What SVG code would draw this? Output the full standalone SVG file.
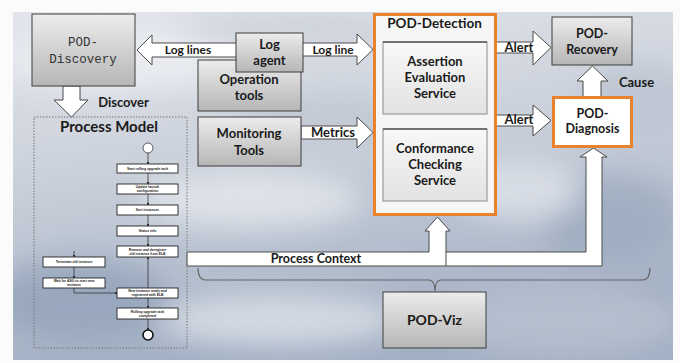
<svg xmlns="http://www.w3.org/2000/svg" width="680" height="363" viewBox="0 0 680 363">
  <defs>
    <linearGradient id="sky" x1="0" y1="0" x2="0.25" y2="1">
      <stop offset="0" stop-color="#e3e5eb"/>
      <stop offset="0.45" stop-color="#cbd1db"/>
      <stop offset="1" stop-color="#a3b0c4"/>
    </linearGradient>
    <linearGradient id="grayBox" x1="0" y1="0" x2="0" y2="1">
      <stop offset="0" stop-color="#ececec"/>
      <stop offset="1" stop-color="#b6b6b6"/>
    </linearGradient>
    <linearGradient id="lightBox" x1="0" y1="0" x2="0" y2="1">
      <stop offset="0" stop-color="#f8f8f8"/>
      <stop offset="1" stop-color="#e2e2e2"/>
    </linearGradient>
    <filter id="cloudBlur" x="-50%" y="-50%" width="200%" height="200%">
      <feGaussianBlur stdDeviation="14"/>
    </filter>
    <clipPath id="skyClip"><rect x="13" y="12" width="660" height="348"/></clipPath>
    <marker id="pmArrow" viewBox="0 0 6 6" refX="5" refY="3" markerWidth="4" markerHeight="4" orient="auto">
      <path d="M0,0 L6,3 L0,6 Z" fill="#222"/>
    </marker>
    <style>
      .lbl { font-family: Lato, "Liberation Sans", sans-serif; font-weight: bold; fill: #1a1a1a; text-anchor: middle; }
      .mono { font-family: "Liberation Mono", "DejaVu Sans Mono", monospace; fill: #333; text-anchor: middle; font-size: 12.5px; }
      .gbox { fill: url(#grayBox); stroke: #3c3c3c; stroke-width: 1; }
      .lbox { fill: url(#lightBox); stroke: #8a8a8a; stroke-width: 1; }
      .obox { stroke: #e8822c; stroke-width: 3; }
      .blk { fill: #ffffff; stroke: #4a4a4a; stroke-width: 1; stroke-linejoin: miter; }
      .pm { fill: #ffffff; stroke: #222; stroke-width: 0.9; }
      .pmt { font-family: "Liberation Sans", sans-serif; font-weight: bold; font-size: 3.4px; fill: #222; text-anchor: middle; }
      .pml { stroke: #222; stroke-width: 0.7; fill: none; }
    </style>
  </defs>

  <!-- page and sky backdrop -->
  <rect x="0" y="0" width="680" height="363" fill="#fbfbfb"/>
  <rect x="13" y="12" width="660" height="348" fill="url(#sky)"/>
  <g clip-path="url(#skyClip)">
    <g filter="url(#cloudBlur)" opacity="0.8">
      <ellipse cx="120" cy="60" rx="120" ry="30" fill="#eef0f4"/>
      <ellipse cx="330" cy="120" rx="90" ry="25" fill="#c0c7d3"/>
      <ellipse cx="250" cy="200" rx="110" ry="28" fill="#e6e9ee"/>
      <ellipse cx="80" cy="300" rx="90" ry="40" fill="#93a3ba"/>
      <ellipse cx="280" cy="320" rx="120" ry="25" fill="#e0e4ea"/>
      <ellipse cx="560" cy="320" rx="120" ry="35" fill="#b9c2d0"/>
      <ellipse cx="610" cy="220" rx="70" ry="45" fill="#9dabbf"/>
      <ellipse cx="520" cy="190" rx="60" ry="30" fill="#dfe3ea"/>
      <ellipse cx="640" cy="100" rx="60" ry="35" fill="#bbc4d1"/>
      <ellipse cx="300" cy="30" rx="120" ry="18" fill="#cbd0da"/>
    </g>
  </g>

  <!-- connectors: block arrows, brace -->
  <g id="connectors">
    <polygon class="blk" points="137,50 152,35 152,43 240,43 240,57 152,57 152,65"/>
    <polygon class="blk" points="63,86 80,86 80,100 88,100 71.5,117 54,100 63,100"/>
    <polygon class="blk" points="300,43 357,43 357,34 373,49.5 357,65 357,56 300,56"/>
    <polygon class="blk" points="301,126 357,126 357,117 373,132.5 357,148 357,139 301,139"/>
    <polygon class="blk" points="496,42 533,42 533,31 551,47.5 533,65 533,53 496,53"/>
    <polygon class="blk" points="496,115 533,115 533,105 551,120.5 533,136 533,126 496,126"/>
    <polygon class="blk" points="583,97 583,81 577,81 592.5,66 608,81 601,81 601,97"/>
    <polygon class="blk" points="187,252 429,252 429,231 425,231 437.5,217 450,231 446,231 446,252 586,252 586,157 580,157 593.5,148 607,157 602,157 602,266 187,266"/>
    <line x1="446" y1="252" x2="446" y2="266" stroke="#4a4a4a" stroke-width="1"/>
    <path d="M198,268 Q198,280 206,280 L429,280 Q435,280 435,291 Q435,280 441,280 L642,280 Q650,280 650,268" fill="none" stroke="#666" stroke-width="1.2"/>
  </g>

  <!-- arrow labels -->
  <text class="lbl" x="188" y="53.5" font-size="12">Log lines</text>
  <text class="lbl" x="333" y="53.5" font-size="12">Log line</text>
  <text class="lbl" x="333" y="137" font-size="13">Metrics</text>
  <text class="lbl" x="519" y="51.5" font-size="13">Alert</text>
  <text class="lbl" x="519" y="124" font-size="13">Alert</text>
  <text class="lbl" x="636.5" y="86.5" font-size="13">Cause</text>
  <text class="lbl" x="123.5" y="107" font-size="13">Discover</text>
  <text class="lbl" x="316" y="263" font-size="12.5">Process Context</text>

  <g id="pod-discovery">
    <rect class="gbox" x="32" y="14" width="103" height="72"/>
    <text class="mono" x="83" y="46">POD-</text>
    <text class="mono" x="83" y="63">Discovery</text>
  </g>

  <g id="operation-tools">
    <rect class="gbox" x="198" y="60" width="103" height="51"/>
    <text class="lbl" x="249" y="84" font-size="13">Operation</text>
    <text class="lbl" x="249" y="100" font-size="13">tools</text>
  </g>

  <g id="log-agent">
    <rect class="gbox" x="236" y="33" width="67" height="39"/>
    <text class="lbl" x="269.5" y="49" font-size="13">Log</text>
    <text class="lbl" x="269.5" y="65" font-size="13">agent</text>
  </g>

  <g id="monitoring-tools">
    <rect class="gbox" x="198" y="117" width="103" height="49"/>
    <text class="lbl" x="249" y="138" font-size="13">Monitoring</text>
    <text class="lbl" x="249" y="155" font-size="13">Tools</text>
  </g>

  <g id="pod-detection">
    <rect class="obox" x="374.5" y="14.5" width="121" height="200" fill="#f6f6f6"/>
    <text class="lbl" x="434.5" y="27.5" font-size="13.5">POD-Detection</text>
  </g>

  <g id="assertion-evaluation">
    <rect class="lbox" x="383" y="42" width="104" height="72"/>
    <line x1="383" y1="42" x2="487" y2="42" stroke="#222" stroke-width="1.2"/>
    <text class="lbl" x="435" y="66" font-size="13">Assertion</text>
    <text class="lbl" x="435" y="82" font-size="13">Evaluation</text>
    <text class="lbl" x="435" y="98" font-size="13">Service</text>
  </g>

  <g id="conformance-checking">
    <rect class="lbox" x="383" y="129" width="104" height="72"/>
    <line x1="383" y1="129" x2="487" y2="129" stroke="#222" stroke-width="1.2"/>
    <text class="lbl" x="435" y="153" font-size="13">Conformance</text>
    <text class="lbl" x="435" y="169" font-size="13">Checking</text>
    <text class="lbl" x="435" y="185" font-size="13">Service</text>
  </g>

  <g id="pod-recovery">
    <rect class="gbox" x="552" y="17" width="80" height="48"/>
    <text class="lbl" x="592" y="38" font-size="12.5">POD-</text>
    <text class="lbl" x="592" y="54" font-size="12.5">Recovery</text>
  </g>

  <g id="pod-diagnosis">
    <rect class="obox" x="553.5" y="97.5" width="78" height="49" fill="#ffffff"/>
    <text class="lbl" x="592.5" y="118" font-size="12.5">POD-</text>
    <text class="lbl" x="592.5" y="133" font-size="12.5">Diagnosis</text>
  </g>

  <g id="pod-viz">
    <rect class="gbox" x="383" y="292" width="103" height="56"/>
    <text class="lbl" x="434.5" y="325" font-size="14">POD-Viz</text>
  </g>

  <!-- process model panel -->
  <g id="process-model">
    <rect x="34" y="117" width="153" height="231" fill="none" stroke="#777" stroke-width="1" stroke-dasharray="1.5,1.5"/>
    <text class="lbl" x="109" y="132" font-size="15">Process Model</text>

    <circle cx="148" cy="148" r="5" fill="#fff" stroke="#333" stroke-width="0.8"/>
    <line class="pml" x1="148" y1="153" x2="148" y2="164" marker-end="url(#pmArrow)"/>
    <rect class="pm" x="117" y="164" width="61" height="9"/>
    <text class="pmt" x="147.5" y="169.8">Start rolling upgrade task</text>

    <line class="pml" x1="148" y1="173" x2="148" y2="184" marker-end="url(#pmArrow)"/>
    <rect class="pm" x="117" y="184" width="61" height="10"/>
    <text class="pmt" x="147.5" y="188.3">Update launch</text>
    <text class="pmt" x="147.5" y="192.3">configuration</text>

    <line class="pml" x1="148" y1="194" x2="148" y2="205" marker-end="url(#pmArrow)"/>
    <rect class="pm" x="117" y="205" width="61" height="10"/>
    <text class="pmt" x="147.5" y="211.2">Sort instances</text>

    <line class="pml" x1="148" y1="215" x2="148" y2="226" marker-end="url(#pmArrow)"/>
    <rect class="pm" x="117" y="226" width="61" height="10"/>
    <text class="pmt" x="147.5" y="232.2">Status info</text>

    <line class="pml" x1="148" y1="236" x2="148" y2="246" marker-end="url(#pmArrow)"/>
    <rect class="pm" x="117" y="246" width="61" height="11"/>
    <text class="pmt" x="147.5" y="250.8">Remove and deregister</text>
    <text class="pmt" x="147.5" y="255">old instance from ELB</text>

    <line class="pml" x1="148" y1="288" x2="148" y2="257" marker-end="url(#pmArrow)"/>

    <line class="pml" x1="74" y1="251" x2="74" y2="257" marker-end="url(#pmArrow)"/>
    <rect class="pm" x="43" y="257" width="62" height="10"/>
    <text class="pmt" x="74" y="263.2">Terminate old instance</text>
    <line class="pml" x1="74" y1="267" x2="74" y2="278" marker-end="url(#pmArrow)"/>
    <rect class="pm" x="43" y="278" width="62" height="10"/>
    <text class="pmt" x="74" y="282.3">Wait for ASG to start new</text>
    <text class="pmt" x="74" y="286.3">instance</text>
    <polyline class="pml" points="74,288 74,293 117,293" marker-end="url(#pmArrow)"/>

    <rect class="pm" x="117" y="288" width="61" height="10"/>
    <text class="pmt" x="147.5" y="292.3">New instance ready and</text>
    <text class="pmt" x="147.5" y="296.3">registered with ELB</text>

    <line class="pml" x1="148" y1="298" x2="148" y2="308" marker-end="url(#pmArrow)"/>
    <rect class="pm" x="117" y="308" width="61" height="11"/>
    <text class="pmt" x="147.5" y="312.8">Rolling upgrade task</text>
    <text class="pmt" x="147.5" y="317">completed</text>

    <line class="pml" x1="148" y1="319" x2="148" y2="330" marker-end="url(#pmArrow)"/>
    <circle cx="148" cy="335" r="5" fill="#fff" stroke="#111" stroke-width="1.6"/>
  </g>
</svg>
